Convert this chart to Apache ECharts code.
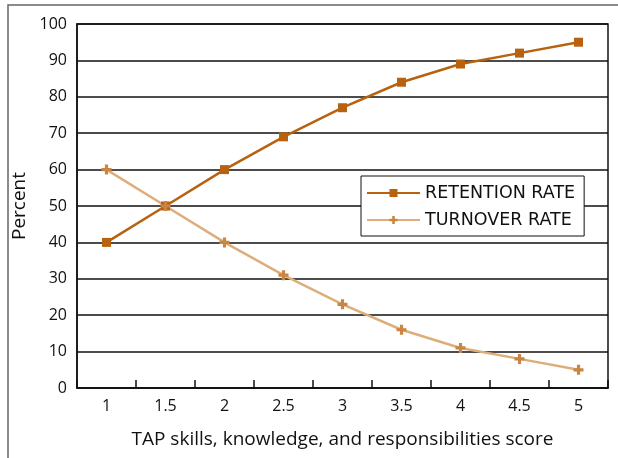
<!DOCTYPE html>
<html>
<head>
<meta charset="utf-8">
<script src="https://cdn.jsdelivr.net/npm/echarts@6/dist/echarts.min.js"></script>
<style>
    html, body { margin: 0; padding: 0; background: #fff; }
    #container { width: 618px; height: 458px; }
</style>
</head>
<body>
<div id="container"></div>
<script>
//数据
var scores = ['1', '1.5', '2', '2.5', '3', '3.5', '4', '4.5', '5'];
var retentionRate = [40, 50, 60, 69, 77, 84, 89, 92, 95];
var turnoverRate = [60, 50, 40, 31, 23, 16, 11, 8, 5];
var yTicks = [0, 10, 20, 30, 40, 50, 60, 70, 80, 90, 100];

var fontName = 'Open Sans';
var plusSymbol = 'path://M3.4,0H6.6V3.4H10V6.6H6.6V10H3.4V6.6H0V3.4H3.4Z';

var dom = document.getElementById("container");
var myChart = echarts.init(dom);
var option = null;

option = {
    animation: false,
    backgroundColor: '#fff',
    textStyle: { fontFamily: fontName, color: '#111' },
    graphic: [
        {
            type: 'rect',
            shape: { x: 8, y: 5, width: 700, height: 600 },
            style: { fill: 'none', stroke: '#666', lineWidth: 1.5 },
            silent: true
        }
    ],
    grid: {
        left: 77,
        right: 10,
        top: 24,
        bottom: 70,
        show: true,
        borderColor: '#111',
        borderWidth: 1.5,
        backgroundColor: 'transparent'
    },
    legend: {
        left: 361,
        top: 176,
        orient: 'vertical',
        itemWidth: 53,
        itemHeight: 10,
        itemGap: 9,
        padding: [8, 9, 7, 5],
        borderColor: '#111',
        borderWidth: 1,
        backgroundColor: '#fff',
        textStyle: { fontFamily: 'DejaVu Sans', fontSize: 17.5, color: '#111' },
        data: ['RETENTION RATE', 'TURNOVER RATE']
    },
    xAxis: {
        type: 'category',
        data: scores,
        boundaryGap: true,
        name: 'TAP skills, knowledge, and responsibilities score',
        nameLocation: 'middle',
        nameGap: 42,
        nameTextStyle: { fontSize: 19, color: '#111' },
        axisLine: { lineStyle: { color: '#111', width: 1.5 } },
        axisTick: { show: true, inside: true, length: 8, lineStyle: { color: '#111', width: 1.5 } },
        axisLabel: { fontSize: 16, color: '#111', margin: 10 },
        splitLine: { show: false }
    },
    yAxis: {
        type: 'value',
        min: yTicks[0],
        max: yTicks[yTicks.length - 1],
        interval: 10,
        name: 'Percent',
        nameLocation: 'middle',
        nameGap: 43,
        nameTextStyle: { fontSize: 19, color: '#111' },
        axisLine: { show: true, lineStyle: { color: '#111', width: 1.5 } },
        axisTick: { show: false },
        axisLabel: { fontSize: 16, color: '#111', margin: 10 },
        splitLine: { show: true, lineStyle: { color: '#111', width: 1.5 } }
    },
    series: [
        {
            name: 'RETENTION RATE',
            type: 'line',
            data: retentionRate,
            symbol: 'rect',
            symbolSize: 9,
            lineStyle: { color: '#B8620F', width: 2.5 },
            itemStyle: { color: '#B8620F' }
        },
        {
            name: 'TURNOVER RATE',
            type: 'line',
            data: turnoverRate,
            symbol: plusSymbol,
            symbolSize: 10,
            lineStyle: { color: '#DDAE7C', width: 2.5 },
            itemStyle: { color: '#C98542' }
        }
    ]
};
if (option && typeof option === "object") {
    myChart.setOption(option, true);
}
</script>
</body>
</html>
